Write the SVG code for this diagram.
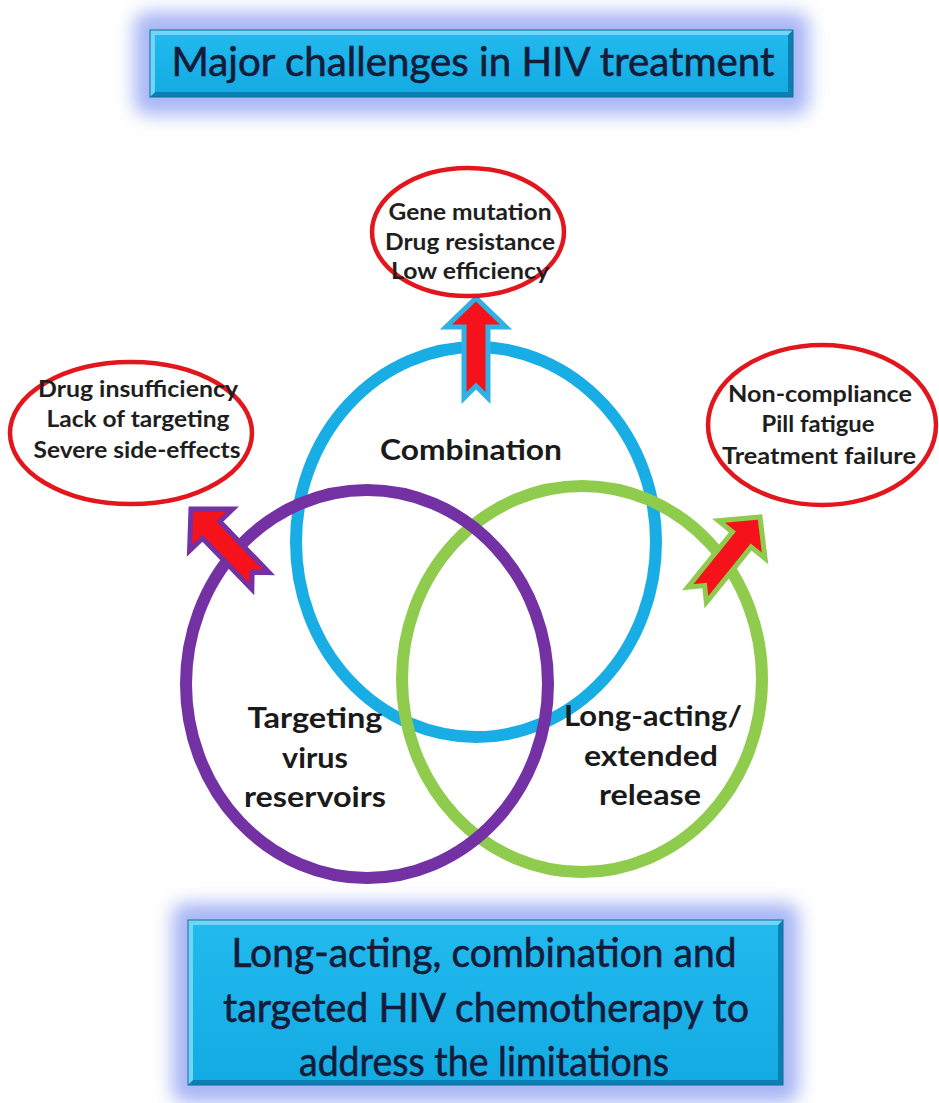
<svg xmlns="http://www.w3.org/2000/svg" width="939" height="1103" viewBox="0 0 939 1103">
  <defs>
    <filter id="glow" x="-20%" y="-60%" width="140%" height="220%">
      <feGaussianBlur stdDeviation="9"/>
    </filter>
    <linearGradient id="boxFill" x1="0" y1="0" x2="0" y2="1">
      <stop offset="0" stop-color="#22b9ee"/>
      <stop offset="1" stop-color="#14abe4"/>
    </linearGradient>
    <!-- block arrow pointing up, tip at origin, notched tail -->
    <path id="arrowShape" d="M0 0 L30 29 L12 29 L12 100 L0 88 L-12 100 L-12 29 L-30 29 Z"/>
  </defs>
  <style>
    .title { font-family: Lato, "Open Sans", "Liberation Sans", sans-serif; font-size: 40px; fill: #161b3a; stroke: #161b3a; stroke-width: 0.6; text-anchor: middle; }
    .lbl { font-family: Lato, "Open Sans", "Liberation Sans", sans-serif; font-weight: bold; font-size: 22px; fill: #1e1e1e; text-anchor: middle; }
    .big { font-family: Lato, "Open Sans", "Liberation Sans", sans-serif; font-weight: bold; font-size: 28px; fill: #1a1a1a; text-anchor: middle; }
    .ring { fill: none; stroke-width: 12; }
    .bubble { fill: #ffffff; stroke: #e3161d; stroke-width: 4.5; }
    .arrow { fill: #f5121a; stroke-width: 5; stroke-linejoin: miter; }
  </style>

  <rect width="939" height="1103" fill="#ffffff"/>

  <!-- heading box -->
  <g id="heading">
    <rect x="134" y="12" width="675" height="103" rx="14" fill="#a8b6f4" filter="url(#glow)"/>
    <rect x="150" y="30" width="643" height="67" fill="#0c7fb2"/>
    <polygon points="150,30 793,30 788,35 155,35 155,92 150,97" fill="#6fd6f7"/>
    <rect x="155" y="35" width="633" height="57" fill="url(#boxFill)"/>
    <rect x="150" y="30" width="643" height="67" fill="none" stroke="#0e6f9c" stroke-width="1"/>
    <text class="title" x="473" y="76" textLength="603" lengthAdjust="spacingAndGlyphs">Major challenges in HIV treatment</text>
  </g>

  <!-- overlapping rings -->
  <g id="ring-combination">
    <ellipse class="ring" cx="476" cy="542" rx="180" ry="195" stroke="#19ade5"/>
    <text class="big" x="471" y="460" textLength="182" lengthAdjust="spacingAndGlyphs">Combination</text>
  </g>
  <g id="ring-long-acting">
    <ellipse class="ring" cx="582" cy="679" rx="180" ry="193" stroke="#8fcb4c"/>
    <text class="big" x="653" y="726" textLength="178" lengthAdjust="spacingAndGlyphs">Long-acting/</text>
    <text class="big" x="651" y="766" textLength="134" lengthAdjust="spacingAndGlyphs">extended</text>
    <text class="big" x="650" y="805" textLength="102" lengthAdjust="spacingAndGlyphs">release</text>
  </g>
  <g id="ring-targeting">
    <ellipse class="ring" cx="367" cy="684" rx="181" ry="194" stroke="#7431a3"/>
    <text class="big" x="315" y="728" textLength="135" lengthAdjust="spacingAndGlyphs">Targeting</text>
    <text class="big" x="315" y="768" textLength="66" lengthAdjust="spacingAndGlyphs">virus</text>
    <text class="big" x="315" y="807" textLength="142" lengthAdjust="spacingAndGlyphs">reservoirs</text>
  </g>

  <!-- arrows from each ring to its challenges -->
  <g id="connectors">
    <use href="#arrowShape" class="arrow" stroke="#2fb1e3" transform="translate(476,298)"/>
    <use href="#arrowShape" class="arrow" stroke="#7431a3" transform="translate(191,509) rotate(-44)"/>
    <use href="#arrowShape" class="arrow" stroke="#8fcb4c" transform="translate(760,517) rotate(39)"/>
  </g>

  <!-- challenge bubbles -->
  <g id="bubble-top">
    <ellipse class="bubble" cx="468" cy="232" rx="96" ry="64"/>
    <text class="lbl" x="470" y="220" textLength="163" lengthAdjust="spacingAndGlyphs">Gene mutation</text>
    <text class="lbl" x="470" y="250" textLength="170" lengthAdjust="spacingAndGlyphs">Drug resistance</text>
    <text class="lbl" x="470" y="279" textLength="158" lengthAdjust="spacingAndGlyphs">Low efficiency</text>
  </g>
  <g id="bubble-left">
    <ellipse class="bubble" cx="131" cy="433" rx="121" ry="71"/>
    <text class="lbl" x="138" y="397" textLength="200" lengthAdjust="spacingAndGlyphs">Drug insufficiency</text>
    <text class="lbl" x="138" y="427" textLength="183" lengthAdjust="spacingAndGlyphs">Lack of targeting</text>
    <text class="lbl" x="137" y="458" textLength="207" lengthAdjust="spacingAndGlyphs">Severe side-effects</text>
  </g>
  <g id="bubble-right">
    <ellipse class="bubble" cx="822" cy="425" rx="114" ry="80"/>
    <text class="lbl" x="820" y="402" textLength="184" lengthAdjust="spacingAndGlyphs">Non-compliance</text>
    <text class="lbl" x="818" y="432" textLength="113" lengthAdjust="spacingAndGlyphs">Pill fatigue</text>
    <text class="lbl" x="819" y="464" textLength="194" lengthAdjust="spacingAndGlyphs">Treatment failure</text>
  </g>

  <!-- conclusion box -->
  <g id="conclusion">
    <rect x="172" y="903" width="627" height="200" rx="14" fill="#a8b6f4" filter="url(#glow)"/>
    <rect x="188" y="920" width="595" height="165" fill="#0c7fb2"/>
    <polygon points="188,920 783,920 778,925 193,925 193,1080 188,1085" fill="#6fd6f7"/>
    <rect x="193" y="925" width="585" height="155" fill="url(#boxFill)"/>
    <rect x="188" y="920" width="595" height="165" fill="none" stroke="#0e6f9c" stroke-width="1"/>
    <text class="title" x="484" y="967" textLength="505" lengthAdjust="spacingAndGlyphs">Long-acting, combination and</text>
    <text class="title" x="486" y="1022" textLength="526" lengthAdjust="spacingAndGlyphs">targeted HIV chemotherapy to</text>
    <text class="title" x="484" y="1076" textLength="370" lengthAdjust="spacingAndGlyphs">address the limitations</text>
  </g>
</svg>
